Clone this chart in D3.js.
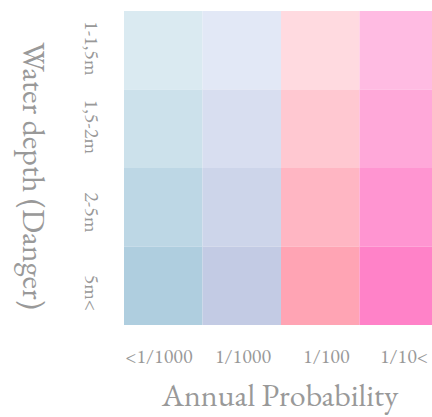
<!DOCTYPE html>
<html><head><meta charset="utf-8">
<script src="https://cdn.jsdelivr.net/npm/d3@7"></script>
<style>body{margin:0;background:#fff;}svg{display:block;}</style>
</head><body>
<svg id="chart" width="432" height="417"></svg>
<script>
const probabilities = ["<1/1000", "1/1000", "1/100", "1/10<"];
const depths = ["1-1,5m", "1,5-2m", "2-5m", "5m<"];
// danger level of each cell (row = depth, col = probability)
const dangerLevels = [
  [1, 1, 1, 1],
  [2, 2, 2, 2],
  [3, 3, 3, 3],
  [4, 4, 4, 4]
];

const svg = d3.select("#chart");
const x = d3.scaleBand().domain(probabilities).range([124, 438]);
const y = d3.scaleBand().domain(depths).range([11, 325]);

const colLight = ["#daeaf1", "#e2e8f6", "#ffdae0", "#ffbbe2"];
const colDark = ["#afcedf", "#c3cbe4", "#ffa4b4", "#ff82c8"];
const colorFor = (ci, v) => d3.scaleLinear().domain([1, 4]).range([colLight[ci], colDark[ci]])(v);

const cells = [];
depths.forEach((d, ri) => probabilities.forEach((p, ci) => cells.push({d, p, ci, v: dangerLevels[ri][ci]})));

svg.selectAll("rect.cell").data(cells).enter().append("rect")
  .attr("x", c => x(c.p)).attr("y", c => y(c.d))
  .attr("width", x.bandwidth()).attr("height", y.bandwidth())
  .attr("fill", c => colorFor(c.ci, c.v));

const font = "'EB Garamond', 'Liberation Serif', 'DejaVu Serif', serif";
const gray = "#999";

// x tick labels
svg.selectAll("text.xt").data(probabilities).enter().append("text")
  .attr("x", p => x(p) + x.bandwidth() - 10)
  .attr("y", 363)
  .attr("text-anchor", "end")
  .attr("font-family", font).attr("font-size", 20).attr("fill", gray)
  .text(p => p);

// y tick labels (rotated)
svg.selectAll("text.yt").data(depths).enter().append("text")
  .attr("transform", d => `translate(85,${y(d) + y.bandwidth() - 14}) rotate(90)`)
  .attr("text-anchor", "end")
  .attr("font-family", font).attr("font-size", 20).attr("fill", gray)
  .text(d => d);

svg.append("text")
  .attr("x", 280).attr("y", 406)
  .attr("text-anchor", "middle")
  .attr("font-family", font).attr("font-size", 32).attr("fill", gray)
  .text("Annual Probability");

svg.append("text")
  .attr("transform", "translate(23,176) rotate(90)")
  .attr("text-anchor", "middle")
  .attr("font-family", font).attr("font-size", 32).attr("fill", gray)
  .text("Water depth (Danger)");
</script>
</body></html>
